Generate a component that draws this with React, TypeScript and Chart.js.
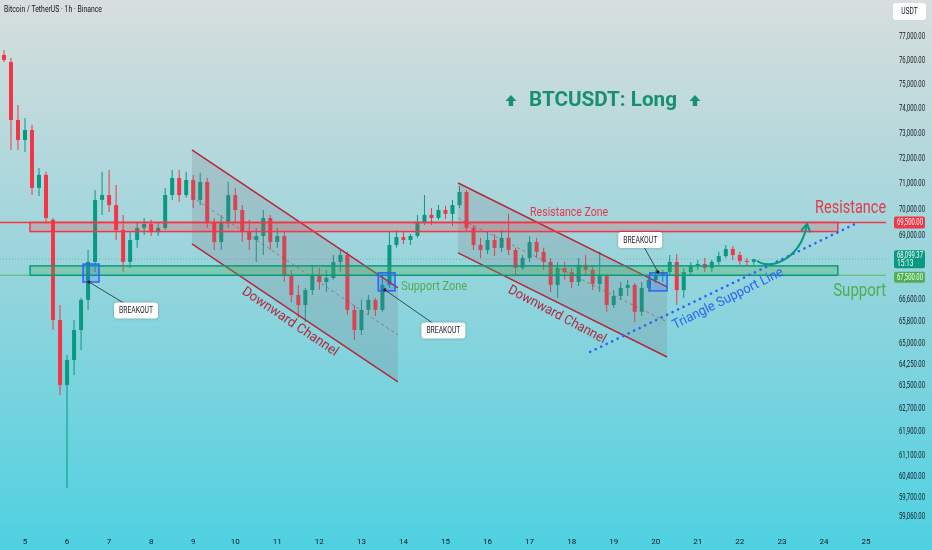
import React, { useEffect, useRef } from "react";
import { Chart, registerables } from "chart.js";

Chart.register(...registerables);

// ---------- data (4-hour candles) ----------
const FIRST_CANDLE_DAY = 4.5;
const CANDLE_STEP_DAYS = 4 / 24;

const opens = [
  76240, 75940, 73550, 72740, 73140, 70840, 71350, 69600, 65850, 63530,
  64410, 65490, 66590, 68000, 70370, 70560, 70170, 69210, 68000, 68830,
  69290, 69440, 69130, 69290, 70560, 71230, 70560, 71150, 70370, 71070,
  69520, 68750, 69520, 70560, 69980, 69130, 68830, 68980, 69670, 68750,
  68980, 67510, 66770, 66400, 66950, 67510, 67250, 67400, 68000, 68260,
  66220, 65490, 66220, 66590, 66220, 67140, 68640, 68940, 68830, 68980,
  69520, 69790, 69670, 69980, 69830, 70170, 70680, 69290, 68640, 68450,
  68830, 68530, 68910, 68450, 67770, 68150, 68750, 68380, 68000, 67140,
  67770, 67620, 67250, 67890, 67700, 67180, 67470, 66400, 66730, 67030,
  67140, 66150, 67030, 67330, 67510, 67620, 68000, 66950, 67620, 67850,
  67920, 67770, 68000, 68220, 68490, 68260, 68040, 68000,
];
const highs = [
  76450, 76110, 74160, 73630, 73350, 71620, 71470, 69670, 66400, 64590,
  65850, 66660, 68450, 70760, 71470, 71540, 70950, 69790, 69130, 69520,
  69670, 69600, 69520, 70840, 71540, 71540, 71470, 71350, 71430, 71230,
  69670, 69790, 71070, 70840, 70170, 69600, 69290, 69980, 69790, 69290,
  69130, 67700, 67140, 67030, 67890, 67770, 67700, 68260, 68450, 68380,
  66400, 66590, 66770, 66660, 67620, 69130, 69210, 69130, 69060, 69790,
  70560, 70060, 70170, 70140, 70370, 70910, 70760, 69400, 68910, 69130,
  69060, 69210, 69830, 68530, 68260, 68980, 68910, 68530, 68150, 68000,
  68000, 67770, 68150, 68260, 67850, 68380, 67550, 66950, 67250, 67330,
  67210, 67250, 67470, 67700, 67700, 68260, 68300, 67770, 68000, 68070,
  68150, 68070, 68380, 68640, 68600, 68380, 68150, 68110,
];
const lows = [
  75940, 72340, 72340, 72260, 70560, 70520, 69520, 65490, 63180, 60020,
  63880, 64770, 66220, 67620, 69790, 69900, 68830, 67620, 67770, 68530,
  69020, 68980, 68980, 69210, 70370, 70290, 70450, 70060, 70170, 69290,
  68450, 68450, 69290, 69520, 68750, 68450, 68000, 68260, 68450, 68530,
  67250, 66510, 65930, 65780, 66770, 66950, 66880, 67330, 67620, 66040,
  65130, 65310, 66040, 66000, 66150, 67030, 68530, 68680, 68640, 68910,
  69400, 69400, 69600, 69630, 69360, 70060, 69130, 68450, 68150, 68300,
  68220, 68380, 68260, 67510, 67700, 68000, 68150, 67700, 66880, 66660,
  67330, 67030, 67100, 67510, 66950, 66880, 66150, 66290, 66590, 66730,
  65780, 66000, 66880, 67210, 67250, 67510, 66400, 66660, 67510, 67700,
  67620, 67620, 67890, 68150, 68070, 67890, 67850, 67890,
];
const closes = [
  76030, 73550, 72740, 73140, 70840, 71350, 69670, 65850, 63530, 64410,
  65490, 66590, 68000, 70370, 70560, 70170, 69210, 68000, 68830, 69290,
  69440, 69130, 69290, 70560, 71230, 70560, 71150, 70370, 71070, 69520,
  68750, 69520, 70560, 69980, 69130, 68830, 68980, 69670, 68750, 68980,
  67510, 66770, 66400, 66950, 67510, 67250, 67400, 68000, 68260, 66220,
  65490, 66220, 66590, 66220, 67140, 68640, 68940, 68830, 68980, 69520,
  69790, 69670, 69980, 69830, 70170, 70680, 69290, 68640, 68450, 68830,
  68530, 68910, 68450, 67770, 68150, 68750, 68380, 68000, 67140, 67770,
  67620, 67250, 67890, 67700, 67180, 67470, 66400, 66730, 67030, 67140,
  66150, 67030, 67330, 67510, 67620, 68000, 66950, 67620, 67850, 67920,
  67770, 68000, 68220, 68490, 68260, 68040, 68000, 68099.37,
];
const candleDays = opens.map((_, i) => FIRST_CANDLE_DAY + i * CANDLE_STEP_DAYS);

const dayTicks = [5, 6, 7, 8, 9, 10, 11, 12, 13, 14, 15, 16, 17, 18, 19, 20, 21, 22, 23, 24, 25];
const priceTicks = [
  77000, 76000, 75000, 74000, 73000, 72000, 71000, 70000, 69000,
  66600, 65800, 65000, 64250, 63500, 62700, 61900, 61100, 60400, 59700, 59060,
];
const lastPrice = 68099.37;
const lastTime = "15:13";

// ---------- drawings (day, price) ----------
const zoneDays = [5.12, 24.33];
const resistanceZone = [69150, 69500];
const supportZone = [67500, 67850];
const resistanceLevel = 69500;
const supportLevel = 67500;

const channel1Days = [8.97, 13.87];
const channel1Upper = [72340, 67030];
const channel1Lower = [68680, 63640];
const channel1Mid = [70490, 65310];

const channel2Days = [15.3, 20.27];
const channel2Upper = [71030, 67070];
const channel2Lower = [68340, 64520];
const channel2Mid = [69670, 65780];

const triangleDays = [18.44, 24.79];
const trianglePrices = [64700, 69480];

const arrowDays = [22.41, 22.67, 23.43, 23.6];
const arrowPrices = [68040, 67700, 68000, 69440];

const breakoutBoxDays = [[6.38, 6.76], [13.4, 13.8], [19.86, 20.27]];
const breakoutBoxPrices = [[67250, 67920], [66920, 67590], [66920, 67590]];
const breakoutAnchorDays = [6.52, 13.56, 20.05];
const breakoutAnchorPrices = [67250, 66955, 67625];
const breakoutLabelDays = [7.64, 14.95, 19.63];
const breakoutLabelPrices = [66200, 65470, 68830];

const titleAt = [18.745, 74325];
const resistanceTextAt = [23.79, 70058];
const supportTextAt = [24.22, 66918];
const resistanceZoneTextAt = [17.94, 69865];
const supportZoneTextAt = [14.73, 67066];
const channel1TextAt = [11.3, 65781];
const channel2TextAt = [17.65, 66037];
const triangleTextAt = [21.72, 66623];

const X_MIN = 4.4055;
const X_MAX = 25.476;
const Y_MIN = 58637;
const Y_MAX = 78590;

const GREEN = "#089981";
const RED = "#f23645";
const SANS = 'Roboto, "DejaVu Sans", sans-serif';

const fmt = (v: number) =>
  v.toLocaleString("en-US", { minimumFractionDigits: 2, maximumFractionDigits: 2 });

function roundRect(ctx: CanvasRenderingContext2D, x: number, y: number, w: number, h: number, r: number) {
  ctx.beginPath();
  ctx.moveTo(x + r, y);
  ctx.lineTo(x + w - r, y);
  ctx.quadraticCurveTo(x + w, y, x + w, y + r);
  ctx.lineTo(x + w, y + h - r);
  ctx.quadraticCurveTo(x + w, y + h, x + w - r, y + h);
  ctx.lineTo(x + r, y + h);
  ctx.quadraticCurveTo(x, y + h, x, y + h - r);
  ctx.lineTo(x, y + r);
  ctx.quadraticCurveTo(x, y, x + r, y);
  ctx.closePath();
}

// text squeezed horizontally (mimics the condensed screenshot); maxW caps the drawn width
function squeezed(
  ctx: CanvasRenderingContext2D, t: string, x: number, y: number, font: string, color: string,
  align: CanvasTextAlign, sx: number, rot = 0, maxW = 0,
) {
  ctx.save();
  ctx.font = font;
  let k = sx;
  if (maxW > 0) {
    const w = ctx.measureText(t).width;
    k = Math.min(sx, maxW / w);
  }
  ctx.translate(x, y);
  ctx.rotate((rot * Math.PI) / 180);
  ctx.scale(k, 1);
  ctx.fillStyle = color;
  ctx.textAlign = align;
  ctx.textBaseline = "middle";
  ctx.fillText(t, 0, 0);
  ctx.restore();
}

const drawingsPlugin = {
  id: "drawings",
  beforeDraw(chart: any) {
    const ctx = chart.ctx;
    const g = ctx.createLinearGradient(0, 0, 0, chart.height);
    g.addColorStop(0, "#d8dedd");
    g.addColorStop(0.45, "#9dd5dc");
    g.addColorStop(1, "#4ed1e1");
    ctx.save();
    ctx.fillStyle = g;
    ctx.fillRect(0, 0, chart.width, chart.height);
    ctx.restore();
  },
  afterDatasetsDraw(chart: any) {
    const ctx: CanvasRenderingContext2D = chart.ctx;
    const xs = chart.scales.x;
    const ys = chart.scales.y;
    const X = (d: number) => xs.getPixelForValue(d);
    const Y = (p: number) => ys.getPixelForValue(p);
    const area = chart.chartArea;

    ctx.save();
    ctx.beginPath();
    ctx.rect(area.left, area.top, area.right - area.left, area.bottom - area.top);
    ctx.clip();

    // current price line
    ctx.strokeStyle = "rgba(40,70,80,0.25)";
    ctx.lineWidth = 1;
    ctx.setLineDash([1, 2]);
    ctx.beginPath();
    ctx.moveTo(area.left, Y(lastPrice));
    ctx.lineTo(area.right, Y(lastPrice));
    ctx.stroke();
    ctx.setLineDash([]);

    // channels
    const channel = (days: number[], up: number[], lo: number[], mid: number[]) => {
      ctx.fillStyle = "rgba(120,123,134,0.22)";
      ctx.beginPath();
      ctx.moveTo(X(days[0]), Y(up[0]));
      ctx.lineTo(X(days[1]), Y(up[1]));
      ctx.lineTo(X(days[1]), Y(lo[1]));
      ctx.lineTo(X(days[0]), Y(lo[0]));
      ctx.closePath();
      ctx.fill();
      ctx.strokeStyle = "#b5283a";
      ctx.lineWidth = 1.5;
      ctx.beginPath();
      ctx.moveTo(X(days[0]), Y(up[0]));
      ctx.lineTo(X(days[1]), Y(up[1]));
      ctx.moveTo(X(days[0]), Y(lo[0]));
      ctx.lineTo(X(days[1]), Y(lo[1]));
      ctx.stroke();
      ctx.strokeStyle = "rgba(160,70,85,0.6)";
      ctx.lineWidth = 1;
      ctx.setLineDash([3, 3]);
      ctx.beginPath();
      ctx.moveTo(X(days[0]), Y(mid[0]));
      ctx.lineTo(X(days[1]), Y(mid[1]));
      ctx.stroke();
      ctx.setLineDash([]);
    };
    channel(channel1Days, channel1Upper, channel1Lower, channel1Mid);
    channel(channel2Days, channel2Upper, channel2Lower, channel2Mid);

    // resistance zone
    ctx.fillStyle = "rgba(242,54,69,0.22)";
    const rx0 = X(zoneDays[0]), rx1 = X(zoneDays[1]);
    ctx.fillRect(rx0, Y(resistanceZone[1]), rx1 - rx0, Y(resistanceZone[0]) - Y(resistanceZone[1]));
    ctx.strokeStyle = RED;
    ctx.lineWidth = 1.5;
    ctx.strokeRect(rx0, Y(resistanceZone[1]), rx1 - rx0, Y(resistanceZone[0]) - Y(resistanceZone[1]));
    ctx.beginPath();
    ctx.moveTo(area.left, Y(resistanceLevel));
    ctx.lineTo(area.right, Y(resistanceLevel));
    ctx.stroke();

    // support zone
    ctx.fillStyle = "rgba(76,175,80,0.3)";
    ctx.fillRect(rx0, Y(supportZone[1]), rx1 - rx0, Y(supportZone[0]) - Y(supportZone[1]));
    ctx.strokeStyle = GREEN;
    ctx.lineWidth = 1.5;
    ctx.strokeRect(rx0, Y(supportZone[1]), rx1 - rx0, Y(supportZone[0]) - Y(supportZone[1]));
    ctx.strokeStyle = "#5cb85c";
    ctx.lineWidth = 1.2;
    ctx.beginPath();
    ctx.moveTo(area.left, Y(supportLevel));
    ctx.lineTo(rx0, Y(supportLevel));
    ctx.moveTo(rx1, Y(supportLevel));
    ctx.lineTo(area.right, Y(supportLevel));
    ctx.stroke();

    // triangle support line (dotted)
    ctx.strokeStyle = "#2962ff";
    ctx.lineWidth = 2.6;
    ctx.lineCap = "round";
    ctx.setLineDash([0.1, 6]);
    ctx.beginPath();
    ctx.moveTo(X(triangleDays[0]), Y(trianglePrices[0]));
    ctx.lineTo(X(triangleDays[1]), Y(trianglePrices[1]));
    ctx.stroke();
    ctx.setLineDash([]);
    ctx.lineCap = "butt";

    // curved arrow
    const ax = arrowDays.map(X);
    const ay = arrowPrices.map(Y);
    ctx.strokeStyle = GREEN;
    ctx.lineWidth = 2;
    ctx.beginPath();
    ctx.moveTo(ax[0], ay[0]);
    ctx.bezierCurveTo(ax[1], ay[1], ax[2], ay[2], ax[3], ay[3]);
    ctx.stroke();
    const ang = Math.atan2(ay[3] - ay[2], ax[3] - ax[2]);
    ctx.beginPath();
    ctx.moveTo(ax[3] - 9 * Math.cos(ang - 0.55), ay[3] - 9 * Math.sin(ang - 0.55));
    ctx.lineTo(ax[3], ay[3]);
    ctx.lineTo(ax[3] - 9 * Math.cos(ang + 0.55), ay[3] - 9 * Math.sin(ang + 0.55));
    ctx.stroke();

    // breakouts
    for (let i = 0; i < 3; i++) {
      const bx0 = X(breakoutBoxDays[i][0]);
      const bx1 = X(breakoutBoxDays[i][1]);
      const by0 = Y(breakoutBoxPrices[i][1]);
      const by1 = Y(breakoutBoxPrices[i][0]);
      ctx.fillStyle = "rgba(41,98,255,0.2)";
      ctx.fillRect(bx0, by0, bx1 - bx0, by1 - by0);
      ctx.strokeStyle = "#2962ff";
      ctx.lineWidth = 1.5;
      ctx.strokeRect(bx0, by0, bx1 - bx0, by1 - by0);

      const axp = X(breakoutAnchorDays[i]);
      const ayp = Y(breakoutAnchorPrices[i]);
      const lx = X(breakoutLabelDays[i]);
      const ly = Y(breakoutLabelPrices[i]);
      ctx.strokeStyle = "#2f4f4f";
      ctx.lineWidth = 1;
      ctx.beginPath();
      ctx.moveTo(axp, ayp);
      ctx.lineTo(lx, ly);
      ctx.stroke();
      ctx.fillStyle = "#111";
      ctx.beginPath();
      ctx.arc(axp, ayp, 1.6, 0, Math.PI * 2);
      ctx.fill();

      const w = 44, h = 16;
      ctx.save();
      ctx.shadowColor = "rgba(0,0,0,0.25)";
      ctx.shadowBlur = 3;
      ctx.fillStyle = "#ffffff";
      roundRect(ctx, lx - w / 2, ly - h / 2, w, h, 3);
      ctx.fill();
      ctx.restore();
      squeezed(ctx, "BREAKOUT", lx, ly + 0.5, `9.5px ${SANS}`, "#1b1f24", "center", 1, 0, 34);
    }
    ctx.restore();

    // texts
    squeezed(ctx, "Resistance Zone", X(resistanceZoneTextAt[0]), Y(resistanceZoneTextAt[1]), `12.5px ${SANS}`, "#e23a4b", "center", 1, 0, 78);
    squeezed(ctx, "Support Zone", X(supportZoneTextAt[0]), Y(supportZoneTextAt[1]), `12.5px ${SANS}`, "#4caf50", "center", 1, 0, 66);
    squeezed(ctx, "Downward Channel", X(channel1TextAt[0]), Y(channel1TextAt[1]), `13.5px ${SANS}`, "#b5283a", "center", 1, 34, 113);
    squeezed(ctx, "Downward Channel", X(channel2TextAt[0]), Y(channel2TextAt[1]), `13.5px ${SANS}`, "#b5283a", "center", 1, 28, 109);
    squeezed(ctx, "Triangle Support Line", X(triangleTextAt[0]), Y(triangleTextAt[1]), `13.5px ${SANS}`, "#2962ff", "center", 1, -26.5, 122);
    squeezed(ctx, "Resistance", X(resistanceTextAt[0]), Y(resistanceTextAt[1]), `19px ${SANS}`, "#e23a4b", "left", 1, 0, 71);
    squeezed(ctx, "Support", X(supportTextAt[0]), Y(supportTextAt[1]), `19px ${SANS}`, "#4caf50", "left", 1, 0, 53);

    // title with arrows
    const tx = X(titleAt[0]);
    const ty = Y(titleAt[1]);
    const TW = 148;
    squeezed(ctx, "BTCUSDT: Long", tx, ty, `bold 21px ${SANS}`, "#16906e", "center", 1, 0, TW);
    const arrow = (cx: number) => {
      ctx.fillStyle = "#16906e";
      ctx.beginPath();
      ctx.moveTo(cx, ty - 6);
      ctx.lineTo(cx + 5.5, ty);
      ctx.lineTo(cx + 2.2, ty);
      ctx.lineTo(cx + 2.2, ty + 5);
      ctx.lineTo(cx - 2.2, ty + 5);
      ctx.lineTo(cx - 2.2, ty);
      ctx.lineTo(cx - 5.5, ty);
      ctx.closePath();
      ctx.fill();
    };
    arrow(tx - TW / 2 - 18);
    arrow(tx + TW / 2 + 18);
  },
  afterDraw(chart: any) {
    const ctx: CanvasRenderingContext2D = chart.ctx;
    const ys = chart.scales.y;
    const left = ys.left + 8;
    const w = 31;
    const axFont = `9.5px ${SANS}`;
    const LW = 26;

    // price axis labels from the scale's own ticks
    for (const t of ys.ticks) {
      squeezed(ctx, fmt(t.value), ys.left + 13, ys.getPixelForValue(t.value), axFont, "#131722", "left", 1, 0, LW);
    }

    // resistance price label
    let y = ys.getPixelForValue(resistanceLevel);
    ctx.fillStyle = RED;
    roundRect(ctx, left, y - 6, w, 12, 2);
    ctx.fill();
    squeezed(ctx, fmt(resistanceLevel), left + 3, y + 0.5, axFont, "#fff", "left", 1, 0, LW);

    // last price label
    y = ys.getPixelForValue(lastPrice);
    ctx.fillStyle = GREEN;
    roundRect(ctx, left, y - 9, w, 18, 2);
    ctx.fill();
    squeezed(ctx, fmt(lastPrice), left + 3, y - 4, axFont, "#fff", "left", 1, 0, LW);
    squeezed(ctx, lastTime, left + 3, y + 4.5, axFont, "#fff", "left", 0.7);

    // support price label
    y = ys.getPixelForValue(supportLevel) + 2;
    ctx.fillStyle = "#4caf50";
    roundRect(ctx, left, y - 5.5, w, 11, 2);
    ctx.fill();
    squeezed(ctx, fmt(supportLevel), left + 3, y + 0.5, axFont, "#fff", "left", 1, 0, LW);

    // currency box
    ctx.fillStyle = "#ffffff";
    roundRect(ctx, left - 1, 3, 33, 17, 3);
    ctx.fill();
    squeezed(ctx, "USDT", left + 15.5, 11.5, axFont, "#131722", "center", 0.7);

    // symbol title
    squeezed(ctx, "Bitcoin / TetherUS · 1h · Binance", 4, 10, `9.5px ${SANS}`, "#131722", "left", 1, 0, 98);
  },
};

export default function App() {
  const ref = useRef<HTMLCanvasElement | null>(null);

  useEffect(() => {
    if (!ref.current) return;
    const bodyColors = closes.map((c, i) => (c >= opens[i] ? GREEN : RED));
    const chart = new Chart(ref.current, {
      type: "bar",
      data: {
        datasets: [
          {
            label: "bodies",
            data: candleDays.map((d, i) => ({ x: d, y: [opens[i], closes[i]] })) as any,
            backgroundColor: bodyColors,
            maxBarThickness: 4,
            minBarLength: 1,
            grouped: false,
            borderWidth: 0,
            order: 0,
          } as any,
          {
            label: "wicks",
            data: candleDays.map((d, i) => ({ x: d, y: [lows[i], highs[i]] })) as any,
            backgroundColor: bodyColors,
            maxBarThickness: 1,
            grouped: false,
            borderWidth: 0,
            order: 1,
          } as any,
        ],
      },
      options: {
        responsive: false,
        devicePixelRatio: 1,
        animation: false,
        events: [],
        layout: { padding: 0 },
        plugins: { legend: { display: false }, tooltip: { enabled: false } },
        scales: {
          x: {
            type: "linear",
            min: X_MIN,
            max: X_MAX,
            offset: false,
            grid: { display: false, drawTicks: false },
            border: { display: false },
            afterBuildTicks: (s: any) => {
              s.ticks = dayTicks.map((v) => ({ value: v }));
            },
            afterFit: (s: any) => {
              s.height = 20;
            },
            ticks: {
              autoSkip: false,
              maxRotation: 0,
              padding: 7,
              color: "#131722",
              font: { family: SANS, size: 8 },
              callback: (v: any) => String(v),
            },
          },
          y: {
            type: "logarithmic",
            position: "right",
            min: Y_MIN,
            max: Y_MAX,
            grid: { display: false, drawTicks: false },
            border: { display: false },
            afterBuildTicks: (s: any) => {
              s.ticks = priceTicks.map((v) => ({ value: v }));
            },
            afterFit: (s: any) => {
              s.width = 46;
            },
            ticks: { display: false, padding: 0 },
          },
        },
      } as any,
      plugins: [drawingsPlugin],
    });
    return () => chart.destroy();
  }, []);

  return (
    <div style={{ position: "fixed", left: 0, top: 0, width: 932, height: 550, overflow: "hidden" }}>
      <canvas ref={ref} width={932} height={550} style={{ display: "block", width: 932, height: 550 }} />
    </div>
  );
}
